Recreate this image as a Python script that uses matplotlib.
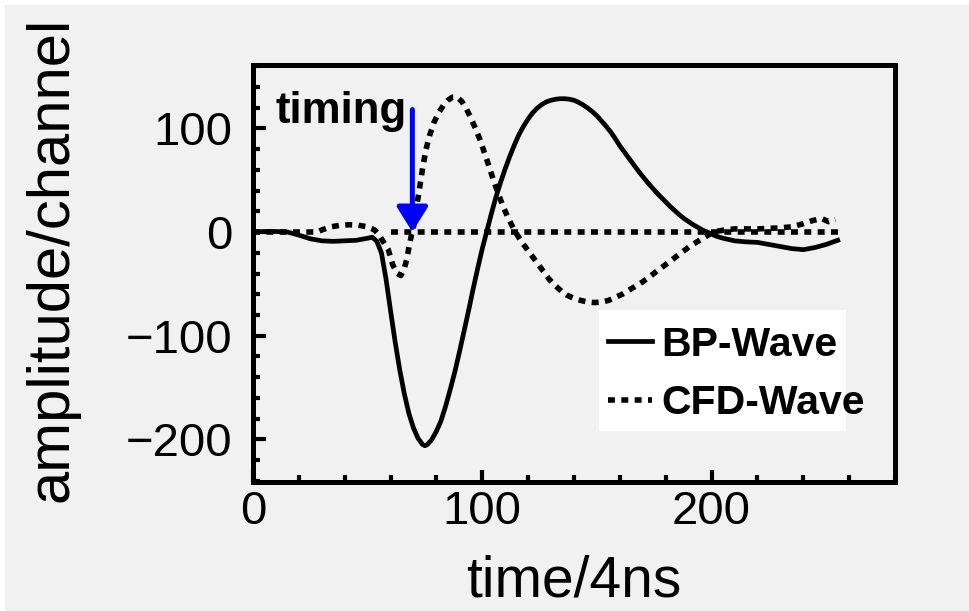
import matplotlib
matplotlib.use("Agg")
import matplotlib.pyplot as plt
from matplotlib.patches import Rectangle
from matplotlib.ticker import MultipleLocator

plt.rcParams["font.family"] = ["Liberation Sans", "DejaVu Sans"]

# BP-Wave (solid)
bp_x = [0, 5, 10, 15, 20, 25, 30, 35, 40, 45, 50, 52, 54, 56, 58, 60, 62, 64, 66, 68,
        70, 72, 74, 75, 76, 78, 80, 82, 84, 86, 88, 90, 92, 94, 96, 98, 100, 102, 104,
        106, 108, 110, 112, 114, 116, 118, 120, 122, 124, 126, 128, 130, 132, 134, 136,
        138, 140, 142, 144, 146, 148, 150, 152, 154, 156, 158, 160, 162, 164, 166, 168,
        170, 172, 174, 176, 178, 180, 182, 184, 186, 188, 190, 192, 194, 196, 198, 200,
        202, 205, 210, 215, 220, 225, 230, 235, 240, 245, 250, 255]
bp_y = [0, 0.5, 0.5, 0, -3, -6.5, -8.5, -9, -8.5, -8, -6, -5, -9, -20, -45, -76, -106,
        -133, -156, -175, -189, -199, -205, -206, -205, -200, -192, -182, -168, -152,
        -135, -116, -96, -76, -55, -35, -16, 1, 18, 34, 48, 61, 73, 84, 94, 102, 109,
        115, 119.5, 123, 125.5, 127, 128, 128.5, 128.5, 128, 127, 125, 122.5, 119.5, 116,
        112, 107, 102, 96.5, 90, 83, 77, 71, 65, 59, 53.5, 48, 43, 38, 33.5, 29, 24.5,
        20.5, 16.5, 13, 10, 7, 4.5, 2, 0, -2, -4, -6, -8.5, -9.5, -10, -12, -14, -16,
        -17, -15, -12, -8]

# CFD-Wave (dotted)
cfd_x = [0, 5, 10, 15, 20, 25, 28, 30, 34, 38, 42, 46, 50, 53, 55, 57, 59, 61, 63, 64.5,
         66, 67, 68, 69, 70, 71, 72.5, 74, 75.5, 77, 79, 81, 83, 85, 87, 89, 91, 93, 95,
         97, 99, 101, 103, 105, 107, 109, 111, 113, 115, 117, 119, 121, 123, 125, 127,
         129, 131, 133, 135, 137, 140, 143, 146, 149, 152, 155, 158, 161, 164, 167, 170,
         173, 176, 179, 182, 185, 188, 191, 194, 197, 200, 203, 206, 210, 215, 220, 225,
         230, 235, 240, 244, 248, 251, 254]
cfd_y = [0, 0, 0, 0, 0, 0, 0, 2, 5, 6.5, 7, 6.5, 5, 2, -3, -10, -17, -32, -40, -42, -35,
         -27, -15, -4, 5, 20, 40, 62, 80, 93, 106, 115, 122, 127, 130, 130, 126, 119,
         110, 100, 89, 76, 63, 49, 37, 25, 15, 6, -2, -9, -15, -21, -27, -33, -39, -45,
         -50, -54, -58, -61, -64, -66, -67.5, -68, -67.5, -66, -63, -60, -56, -52, -48,
         -43, -38, -33, -28, -23, -18, -13, -9, -5, -1, 1, 2, 3, 3, 3, 3.5, 4, 5, 8, 11,
         13, 10, 12]

# zero reference
zero_x = [60, 256]
zero_y = [0, 0]

# timing marker
timing_x = 69.5
timing_top = 118

bg = "#f1f1f1"
fig = plt.figure(figsize=(9.7, 6.11), dpi=100, facecolor="white")
fig.patches.append(Rectangle((5 / 970, 0), 963 / 970, 606 / 611,
                             transform=fig.transFigure, color=bg, zorder=-10))

ax = fig.add_axes([253 / 970, 1 - 482 / 611, 642 / 970, 417 / 611])
ax.set_facecolor(bg)

dot = (0, (1.25, 1.15))
ax.plot(zero_x, zero_y, color="black", lw=4.0, linestyle=dot)
ax.plot(cfd_x, cfd_y, color="black", lw=4.0, linestyle=dot, label="CFD-Wave")
ax.plot(bp_x, bp_y, color="black", lw=3.4, label="BP-Wave")

ax.annotate("", xy=(timing_x, 0), xytext=(timing_x, timing_top),
            arrowprops=dict(arrowstyle="-|>,head_length=0.45,head_width=0.28",
                            color="#0000ff", lw=3.6, mutation_scale=34,
                            shrinkA=0, shrinkB=0))
ax.text(10, 105, "timing", fontsize=31.5, fontweight="bold", ha="left", va="baseline")

ax.set_xlim(0, 280)
ax.set_ylim(-241, 161)
ax.xaxis.set_major_locator(MultipleLocator(100))
ax.xaxis.set_minor_locator(MultipleLocator(20))
ax.yaxis.set_major_locator(MultipleLocator(100))
ax.yaxis.set_minor_locator(MultipleLocator(20))
ax.tick_params(which="both", direction="in", top=False, right=False, width=3.0)
ax.tick_params(which="major", length=9, labelsize=34)
ax.tick_params(axis="x", which="major", pad=6)
ax.tick_params(axis="y", which="major", pad=15)
ax.tick_params(which="minor", length=5)
for s in ax.spines.values():
    s.set_linewidth(3.6)

ax.set_xlabel("time/4ns", fontsize=41)
ax.set_ylabel("amplitude/channel", fontsize=43)
ax.xaxis.set_label_coords(0.5, -0.175)
ax.yaxis.set_label_coords(-0.27, 0.535)

# white legend backing, narrower than the text as in the original
ax.add_patch(Rectangle((0.539, 0.122), 0.385, 0.29, transform=ax.transAxes,
                       facecolor="white", edgecolor="none", zorder=3))
h, l = ax.get_legend_handles_labels()
leg = ax.legend(h[::-1], l[::-1], loc="upper left", bbox_to_anchor=(0.553, 0.375),
                prop={"size": 29.5, "weight": "bold"}, frameon=False,
                handlelength=1.07, handletextpad=0.22, labelspacing=0.5,
                borderpad=0, borderaxespad=0)
leg.set_zorder(4)

fig.savefig("out.png", dpi=100, facecolor=fig.get_facecolor())
